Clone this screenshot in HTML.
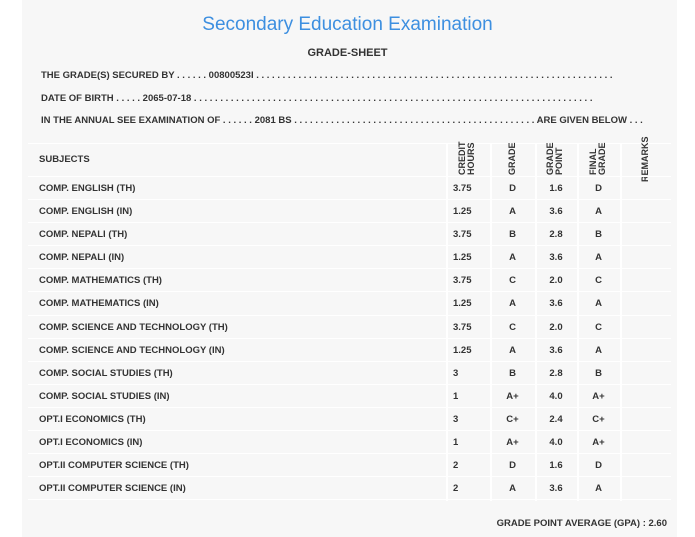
<!DOCTYPE html>
<html><head><style>
body{margin:0;width:695px;height:537px;background:#fff;font-family:"Liberation Sans",sans-serif;color:#333;position:relative;overflow:hidden}
.panel{position:absolute;left:22px;top:0;width:655px;height:537px;background:#f7f7f7}
.t{position:absolute;white-space:nowrap;font-size:10px;font-weight:bold}
h1{position:absolute;left:0;width:695px;top:14px;margin:0;text-align:center;font-weight:normal;font-size:19px;color:#3d8fe0}
.hl{position:absolute;left:28px;width:643px;height:1px;background:#fff}
.vl{position:absolute;top:143px;height:358px;width:2px;background:#fff}
.rot{position:absolute;transform:rotate(-90deg);transform-origin:left top;font-size:9px;font-weight:bold;line-height:9px;white-space:nowrap}
.r{position:absolute;left:0;width:695px;height:23px}
.r span{position:absolute;top:7px;font-size:9.5px;font-weight:bold;white-space:nowrap}
.r .s{left:39px}.r .a{left:453px}
.r .b{left:490px;width:45px;text-align:center}
.r .c{left:535px;width:42px;text-align:center}
.r .d{left:577px;width:43px;text-align:center}
.r:before{content:"";position:absolute;left:28px;width:643px;top:0;height:1px;background:#fff}
</style></head><body>
<div class="panel"></div>
<h1>Secondary Education Examination</h1>
<div class="t" style="left:0;width:695px;text-align:center;top:47px;font-size:11px">GRADE-SHEET</div>
<div class="t" style="left:41px;top:70px;font-size:9.5px">THE GRADE(S) SECURED BY . . . . . . 00800523I . . . . . . . . . . . . . . . . . . . . . . . . . . . . . . . . . . . . . . . . . . . . . . . . . . . . . . . . . . . . . . . . . . . .</div>
<div class="t" style="left:41px;top:93px;font-size:9.5px">DATE OF BIRTH . . . . . 2065-07-18 . . . . . . . . . . . . . . . . . . . . . . . . . . . . . . . . . . . . . . . . . . . . . . . . . . . . . . . . . . . . . . . . . . . . . . . . . . . .</div>
<div class="t" style="left:41px;top:115px;font-size:9.5px">IN THE ANNUAL SEE EXAMINATION OF . . . . . . 2081 BS . . . . . . . . . . . . . . . . . . . . . . . . . . . . . . . . . . . . . . . . . . . . . . ARE GIVEN BELOW . . .</div>
<div class="hl" style="top:143px"></div>
<div class="vl" style="left:446px"></div><div class="vl" style="left:490px"></div><div class="vl" style="left:535px"></div><div class="vl" style="left:577px"></div><div class="vl" style="left:620px"></div>
<div class="t" style="left:39px;top:154px;font-size:9.5px">SUBJECTS</div>
<div class="rot" style="left:458px;top:175px">CREDIT<br>HOURS</div>
<div class="rot" style="left:508px;top:175px">GRADE</div>
<div class="rot" style="left:546px;top:175px">GRADE<br>POINT</div>
<div class="rot" style="left:589px;top:175px">FINAL<br>GRADE</div>
<div class="rot" style="left:641px;top:182px">REMARKS</div>

<div class="r" style="top:176px"><span class="s">COMP. ENGLISH (TH)</span><span class="a">3.75</span><span class="b">D</span><span class="c">1.6</span><span class="d">D</span></div>
<div class="r" style="top:199px"><span class="s">COMP. ENGLISH (IN)</span><span class="a">1.25</span><span class="b">A</span><span class="c">3.6</span><span class="d">A</span></div>
<div class="r" style="top:222px"><span class="s">COMP. NEPALI (TH)</span><span class="a">3.75</span><span class="b">B</span><span class="c">2.8</span><span class="d">B</span></div>
<div class="r" style="top:245px"><span class="s">COMP. NEPALI (IN)</span><span class="a">1.25</span><span class="b">A</span><span class="c">3.6</span><span class="d">A</span></div>
<div class="r" style="top:268px"><span class="s">COMP. MATHEMATICS (TH)</span><span class="a">3.75</span><span class="b">C</span><span class="c">2.0</span><span class="d">C</span></div>
<div class="r" style="top:291px"><span class="s">COMP. MATHEMATICS (IN)</span><span class="a">1.25</span><span class="b">A</span><span class="c">3.6</span><span class="d">A</span></div>
<div class="r" style="top:315px"><span class="s">COMP. SCIENCE AND TECHNOLOGY (TH)</span><span class="a">3.75</span><span class="b">C</span><span class="c">2.0</span><span class="d">C</span></div>
<div class="r" style="top:338px"><span class="s">COMP. SCIENCE AND TECHNOLOGY (IN)</span><span class="a">1.25</span><span class="b">A</span><span class="c">3.6</span><span class="d">A</span></div>
<div class="r" style="top:361px"><span class="s">COMP. SOCIAL STUDIES (TH)</span><span class="a">3</span><span class="b">B</span><span class="c">2.8</span><span class="d">B</span></div>
<div class="r" style="top:384px"><span class="s">COMP. SOCIAL STUDIES (IN)</span><span class="a">1</span><span class="b">A+</span><span class="c">4.0</span><span class="d">A+</span></div>
<div class="r" style="top:407px"><span class="s">OPT.I ECONOMICS (TH)</span><span class="a">3</span><span class="b">C+</span><span class="c">2.4</span><span class="d">C+</span></div>
<div class="r" style="top:430px"><span class="s">OPT.I ECONOMICS (IN)</span><span class="a">1</span><span class="b">A+</span><span class="c">4.0</span><span class="d">A+</span></div>
<div class="r" style="top:453px"><span class="s">OPT.II COMPUTER SCIENCE (TH)</span><span class="a">2</span><span class="b">D</span><span class="c">1.6</span><span class="d">D</span></div>
<div class="r" style="top:476px"><span class="s">OPT.II COMPUTER SCIENCE (IN)</span><span class="a">2</span><span class="b">A</span><span class="c">3.6</span><span class="d">A</span></div>
<div class="hl" style="top:499px"></div>
<div class="t" style="right:28px;top:518px;font-size:9.5px">GRADE POINT AVERAGE (GPA) : 2.60</div>
</body></html>
